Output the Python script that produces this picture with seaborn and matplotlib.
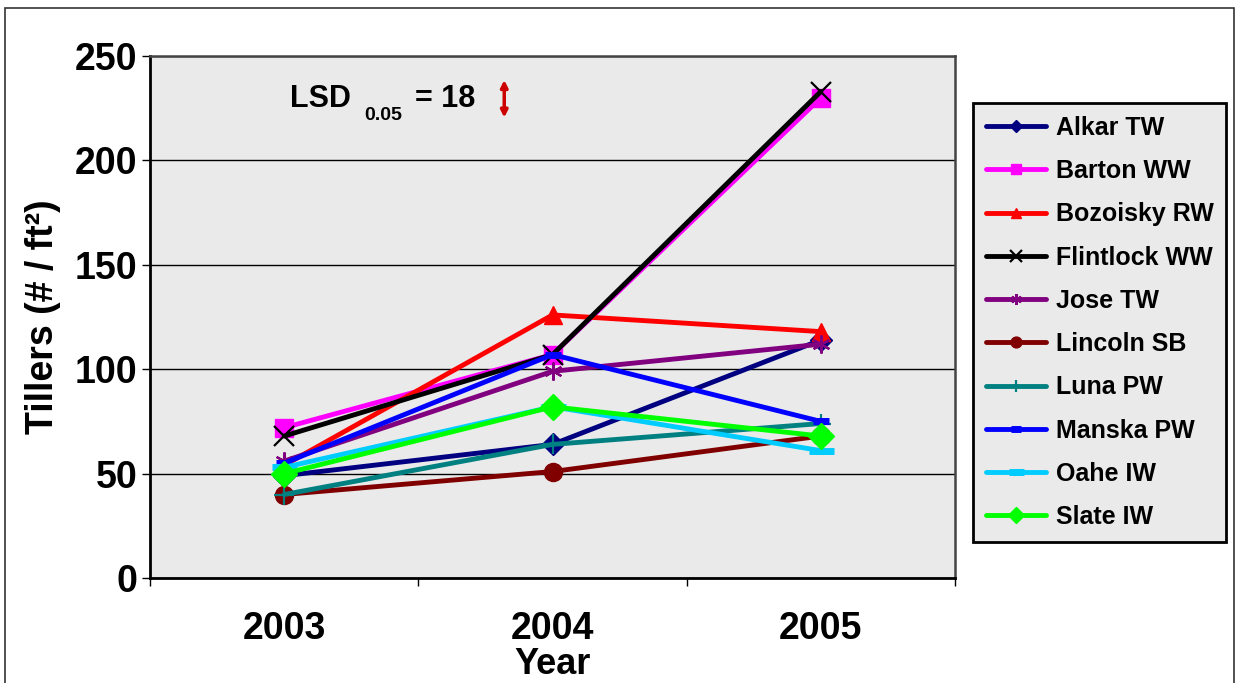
import matplotlib
matplotlib.use("Agg")
import matplotlib.pyplot as plt
import matplotlib.patches as patches
import seaborn as sns
import pandas as pd

years = ["2003", "2004", "2005"]
varieties = ["Alkar TW", "Barton WW", "Bozoisky RW", "Flintlock WW", "Jose TW",
             "Lincoln SB", "Luna PW", "Manska PW", "Oahe IW", "Slate IW"]
alkar = [49, 64, 114]
barton = [72, 107, 230]
bozoisky = [54, 126, 118]
flintlock = [68, 107, 233]
jose = [56, 99, 112]
lincoln = [40, 51, 68]
luna = [40, 64, 74]
manska = [55, 107, 75]
oahe = [53, 82, 61]
slate = [50, 82, 68]
lsd_value = 18
lsd_center = 229.5

series = [alkar, barton, bozoisky, flintlock, jose, lincoln, luna, manska, oahe, slate]
colors = ["#000080", "#FF00FF", "#FF0000", "#000000", "#800080",
          "#800000", "#008080", "#0000FF", "#00CCFF", "#00FF00"]
markers = ["D", "s", "^", "x", (6, 2, 0), "o", "+", "_", "_", "D"]
msizes = [11, 13, 13, 15, 13, 13, 15, 12, 18, 13]
mews = [1, 1, 1, 1.6, 1.6, 1, 1.6, 5, 5, 1]

rows = []
for name, vals in zip(varieties, series):
    for i, v in enumerate(vals):
        rows.append({"variety": name, "pos": i, "tillers": v})
df = pd.DataFrame(rows)

sns.set_style("white")
plt.rcParams["font.family"] = ["Liberation Sans", "DejaVu Sans"]
plt.rcParams["font.weight"] = "bold"
for key in ["text.color", "axes.labelcolor", "xtick.color", "ytick.color"]:
    plt.rcParams[key] = "black"

fig = plt.figure(figsize=(12.36, 6.83), dpi=100)
ax = fig.add_axes([0.1214, 0.1537, 0.6513, 0.7643])
ax.set_facecolor("#EAEAEA")

for name, c, m, ms, mew in zip(varieties, colors, markers, msizes, mews):
    sub = df[df["variety"] == name]
    sns.lineplot(data=sub, x="pos", y="tillers", color=c, marker=m,
                 markersize=ms, markeredgecolor=c, markeredgewidth=mew,
                 markerfacecolor=c, lw=3.5, label=name, ax=ax, zorder=3)

ax.set_xlim(-0.5, len(years) - 0.5)
ax.set_ylim(0, 250)
ax.set_yticks([0, 50, 100, 150, 200, 250])
ax.yaxis.grid(True, color="black", lw=1)
ax.set_axisbelow(True)

# category boundaries as major ticks, labels on minor ticks
ax.set_xticks([i - 0.5 for i in range(len(years) + 1)])
ax.set_xticklabels([])
ax.set_xticks(range(len(years)), minor=True)
ax.set_xticklabels(years, minor=True, fontsize=27, fontweight="bold")
ax.tick_params(axis="x", which="major", direction="out", length=6, width=1, color="black", bottom=True)
ax.tick_params(axis="x", which="minor", length=0, pad=24)
ax.tick_params(axis="y", direction="out", length=6, width=1, color="black", left=True,
               labelsize=27, pad=3)
for lab in ax.get_yticklabels():
    lab.set_fontweight("bold")

for side in ["left", "bottom"]:
    ax.spines[side].set_color("black")
    ax.spines[side].set_linewidth(2)
for side in ["top", "right"]:
    ax.spines[side].set_color("#444444")
    ax.spines[side].set_linewidth(1.8)

ax.set_ylabel("Tillers (# / ft²)", fontsize=27, fontweight="bold", labelpad=10)
ax.set_xlabel("Year", fontsize=26, fontweight="bold", labelpad=0)

# LSD annotation
ax.text(0.174, 0.902, "LSD", transform=ax.transAxes, fontsize=22, fontweight="bold", va="baseline")
ax.text(0.266, 0.877, "0.05", transform=ax.transAxes, fontsize=14, fontweight="bold", va="baseline")
ax.text(0.329, 0.902, "= 18", transform=ax.transAxes, fontsize=22, fontweight="bold", va="baseline")
ax.annotate("", xy=(0.82, lsd_center + lsd_value / 2), xytext=(0.82, lsd_center - lsd_value / 2),
            arrowprops=dict(arrowstyle="<|-|>", color="#CC0000", lw=2.5, mutation_scale=10,
                            shrinkA=0, shrinkB=0))

leg = ax.legend(loc="center", bbox_to_anchor=(0.8896, 0.5278), bbox_transform=fig.transFigure,
                fontsize=18, frameon=True, fancybox=False, handlelength=2.4,
                labelspacing=0.77, borderpad=0.5, handletextpad=0.4)
leg.get_frame().set_facecolor("#EAEAEA")
leg.get_frame().set_edgecolor("black")
leg.get_frame().set_linewidth(2)
leg.get_frame().set_alpha(1)
for t in leg.get_texts():
    t.set_fontweight("bold")
for h in leg.legend_handles:
    h.set_markersize(h.get_markersize() * 0.6)

fig.patches.append(patches.Rectangle((0.004, -0.02), 0.994, 1.008, transform=fig.transFigure,
                                     fill=False, edgecolor="#333333", lw=1.2))

fig.savefig("out.png", dpi=100)
